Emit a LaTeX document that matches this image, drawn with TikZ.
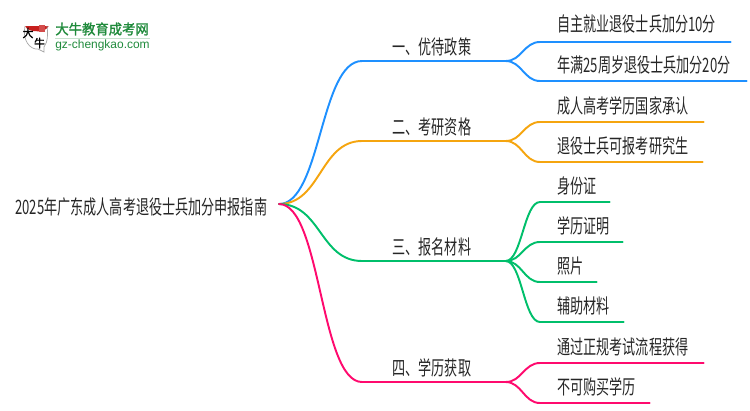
\documentclass[tikz,border=0pt]{standalone}
\usepackage{fontspec}
\setmainfont{Noto Sans CJK SC}[FakeStretch=0.66]
\newfontfamily\logofont{Noto Sans CJK SC}[FakeStretch=0.95,FakeBold=1.5]
\newfontfamily\urlfont{Liberation Sans}
\usepackage{xcolor}
\definecolor{branchblue}{HTML}{1E90FF}
\definecolor{branchorange}{HTML}{F5A50F}
\definecolor{branchgreen}{HTML}{00BF6B}
\definecolor{branchpink}{HTML}{FF0A6E}
\definecolor{logogreen}{HTML}{1F8A3B}
\definecolor{logored}{HTML}{C8201E}
\begin{document}
\begin{tikzpicture}[
        x=0.02cm,y=-0.02cm,
        rootnode/.style={inner sep=0pt,font=\fontsize{11.3}{13}\selectfont,text=black!85},
        topic/.style={anchor=south west,inner sep=0pt,minimum width=2.86cm,text depth=0.13cm,font=\fontsize{11.3}{13}\selectfont,text=black!85,execute at end node={\hspace*{0.08cm}}},
        leaf/.style={anchor=south west,inner sep=0pt,align=left,text depth=0.17cm,font=\fontsize{11.3}{13}\selectfont,text=black!85,execute at begin node={\hspace*{0.34cm}}},
        wire/.style={line width=1.1pt,line cap=round},
        bigcurve/.style={to path={.. controls +(42,0) and +(-42,0) .. (\tikztotarget)}},
        smallcurve/.style={to path={.. controls +(16,0) and +(-16,0) .. (\tikztotarget)}},
        ]
        \useasboundingbox (0,0) rectangle (750,410);

        % Logo
        \fill[logored] (25,26) arc[start angle=170,end angle=10,x radius=12,y radius=6.5] -- cycle;
        \draw[black!35,line width=0.4pt] (25,26) .. controls (22,40) and (30,50) .. (38,49) -- (44,52) -- (44,47) .. controls (48,42) and (48,33) .. (47,26);
        \fill[logored!80] (39,25) rectangle (45,32);
        \node[inner sep=0pt,font=\fontsize{6.5}{7}\selectfont\logofont] (logoda) at (28,33) {大};
        \node[inner sep=0pt,font=\fontsize{6.5}{7}\selectfont\logofont] (logoniu) at (39.5,43) {牛};
        \node[anchor=west,inner sep=0pt,text=logogreen,font=\fontsize{8}{9}\selectfont\logofont] (logotitle) at (55,29) {大牛教育成考网};
        \draw[logogreen!25,line width=0.6pt] (55,38.5) -- (150,38.5);
        \node[anchor=west,inner sep=0pt,text=logogreen,font=\fontsize{6.8}{8}\selectfont\urlfont] (logourl) at (55,45.5) {gz-chengkao.com};

        % Root
        \node[rootnode,anchor=west] (root) at (15,207) {2025年广东成人高考退役士兵加分申报指南};
        \coordinate (hub) at (279,204);

        % Topics
        \node[topic] (policy) at (362,61) {一、优待政策};
        \node[topic] (exam) at (362,141) {二、考研资格};
        \node[topic] (material) at (362,261) {三、报名材料};
        \node[topic] (degree) at (362,382) {四、学历获取};

        % Leaves
        \node[leaf,text width=3.8cm,text depth=0.21cm] (job) at (540,42) {自主就业退役士兵加分10分};
        \node[leaf,text width=4.12cm] (age) at (540,81) {年满25周岁退役士兵加分20分};
        \node[leaf,text width=3.26cm] (state) at (540,122) {成人高考学历国家承认};
        \node[leaf,text width=3.24cm] (apply) at (540,162) {退役士兵可报考研究生};
        \node[leaf,text width=1.38cm] (idcard) at (540,202) {身份证};
        \node[leaf,text width=1.64cm] (diploma) at (540,242) {学历证明};
        \node[leaf,text width=1.12cm] (photo) at (540,282) {照片};
        \node[leaf,text width=1.66cm] (extra) at (540,322) {辅助材料};
        \node[leaf,text width=3.26cm] (regular) at (540,363) {通过正规考试流程获得};
        \node[leaf,text width=2.18cm] (nobuy) at (540,403) {不可购买学历};

        % Branch lines
        \draw[wire,branchblue] (hub) to[bigcurve] (policy.south west) -- (policy.south east);
        \draw[wire,branchorange] (hub) to[bigcurve] (exam.south west) -- (exam.south east);
        \draw[wire,branchgreen] (hub) to[bigcurve] (material.south west) -- (material.south east);
        \draw[wire,branchpink] (hub) to[bigcurve] (degree.south west) -- (degree.south east);

        % Leaf lines
        \draw[wire,branchblue] (policy.south east) to[smallcurve] (job.south west) -- (job.south east);
        \draw[wire,branchblue] (policy.south east) to[smallcurve] (age.south west) -- (age.south east);
        \draw[wire,branchorange] (exam.south east) to[smallcurve] (state.south west) -- (state.south east);
        \draw[wire,branchorange] (exam.south east) to[smallcurve] (apply.south west) -- (apply.south east);
        \draw[wire,branchgreen] (material.south east) to[smallcurve] (idcard.south west) -- (idcard.south east);
        \draw[wire,branchgreen] (material.south east) to[smallcurve] (diploma.south west) -- (diploma.south east);
        \draw[wire,branchgreen] (material.south east) to[smallcurve] (photo.south west) -- (photo.south east);
        \draw[wire,branchgreen] (material.south east) to[smallcurve] (extra.south west) -- (extra.south east);
        \draw[wire,branchpink] (degree.south east) to[smallcurve] (regular.south west) -- (regular.south east);
        \draw[wire,branchpink] (degree.south east) to[smallcurve] (nobuy.south west) -- (nobuy.south east);
    \end{tikzpicture}
\end{document}
